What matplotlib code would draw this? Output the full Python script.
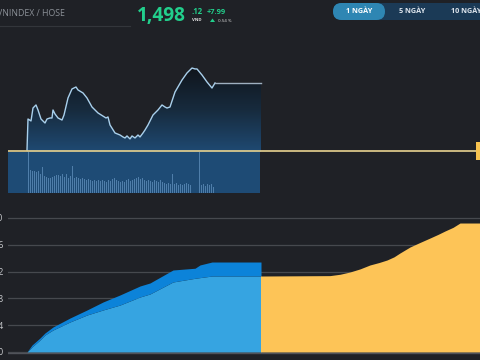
"""
VNINDEX / HOSE intraday widget — price + volume on top, cumulative volume below.
"""
import numpy as np
import matplotlib
matplotlib.use("Agg")
import matplotlib.pyplot as plt
from matplotlib.colors import LinearSegmentedColormap
from matplotlib.patches import FancyBboxPatch, Rectangle, Polygon

# ── Data (x = time slot across the session) ─────────────────────────────────
REF_PRICE = 1490.13
LAST_PRICE = 1498.12
SESSION_END = 253

price_t = [19, 20, 23, 25, 28, 30, 33, 37, 39, 42, 44, 45, 47, 50, 54, 56, 60, 64,
           68, 70, 75, 79, 84, 90, 98, 100, 102,
           107, 112, 115, 117, 119, 122, 124, 127, 130, 132, 135, 137, 140,
           145, 150, 154, 157, 159, 162, 167, 174, 179, 184, 187, 189, 194, 199,
           204, 207]
price = [1490.25, 1493.89, 1493.66, 1495.18, 1495.54, 1494.95, 1493.89, 1493.42,
         1493.89, 1494.01, 1494.01, 1494.95, 1494.48, 1494.01, 1493.77, 1494.36,
         1496.36, 1497.42, 1497.65, 1497.30, 1496.95, 1496.36, 1495.30, 1494.60,
         1494.01, 1494.13, 1493.19,
         1492.25, 1492.01, 1491.78, 1491.66, 1491.90, 1491.55, 1491.90, 1491.66,
         1492.01, 1491.78, 1492.25, 1492.60, 1493.19,
         1494.36, 1494.95, 1495.54, 1495.30, 1495.18, 1495.30, 1497.06, 1498.47,
         1499.30, 1499.88, 1499.77, 1499.77, 1499.06, 1498.24, 1497.53, 1498.12]

vol_t = [20, 22, 24, 26, 28, 30, 32, 34, 36, 38, 40, 42, 44, 46, 48, 50, 52, 54,
         56, 58, 60, 62, 64, 66, 68, 70, 72, 74, 76, 78, 80, 82, 84, 86, 88, 90,
         92, 94, 96, 98, 100, 102, 104, 106, 108, 110, 112, 114, 116, 118, 120,
         122, 124, 126, 128, 130, 132, 134, 136, 138, 140, 142, 144, 146, 148,
         150, 152, 154, 156, 158, 160, 162, 164, 166, 168, 170, 172, 174, 176,
         178, 180, 182, 191, 193, 195, 197, 199, 201, 203, 205]
vol = [41, 23, 22, 22, 21, 22, 19, 26, 17, 16, 15, 15, 16, 17, 18, 18, 17, 19,
       16, 19, 15, 17, 27, 15, 16, 15, 14, 15, 14, 13, 14, 13, 12, 13, 12, 13,
       12, 13, 12, 11, 13, 12, 14, 15, 13, 12, 11, 12, 11, 13, 14, 12, 13, 14,
       15, 16, 14, 15, 13, 12, 13, 12, 11, 13, 12, 11, 13, 11, 10, 9, 10, 9,
       19, 9, 10, 8, 9, 8, 9, 10, 9, 8, 41, 8, 9, 7, 9, 8, 9, 6]

cum_t = [19, 24, 32, 37, 45, 62, 79, 95, 112, 132, 142, 165, 187, 192, 204, 253]
cum_today = [0, 0.75, 1.79, 2.54, 3.28, 4.48, 5.52, 6.27, 7.01, 8.21, 8.66,
             10.45, 11.0, 11.1, 11.34, 11.34]
cum_total = [0, 1.04, 2.09, 2.84, 3.73, 5.07, 6.27, 7.46, 8.51, 9.85, 10.3,
             12.24, 12.5, 12.99, 13.43, 13.43]

proj_t = [252.5, 322, 332, 342, 352, 362, 371, 379, 386, 392, 402, 412, 422, 430,
          437, 445, 452, 472]
proj = [11.34, 11.4, 11.6, 11.94, 12.4, 12.99, 13.35, 13.73, 14.2, 14.78, 15.67,
        16.35, 17.01, 17.55, 18.06, 18.6, 19.25, 19.25]

cum_ticks = [0, 4, 8, 12, 16, 20]
tabs = ["1 NGÀY", "5 NGÀY", "10 NGÀY"]

# ── Style ───────────────────────────────────────────────────────────────────
BG = "#1f2126"
GREEN = "#22cf8c"
YELLOW_LINE = "#e8d390"
W, H = 480, 360

plt.rcParams["font.family"] = ["Open Sans", "DejaVu Sans"]

fig = plt.figure(figsize=(4.8, 3.6), dpi=100, facecolor=BG)


def px_axes(x0, y0, x1, y1, **kw):
    return fig.add_axes([x0 / W, 1 - y1 / H, (x1 - x0) / W, (y1 - y0) / H], **kw)


# ── Price panel ─────────────────────────────────────────────────────────────
k = 0.1175  # price per pixel
ax_p = px_axes(8, 40, 480, 152)
ax_p.set_xlim(0, 472)
ax_p.set_ylim(REF_PRICE - k, REF_PRICE + 111 * k)
ax_p.axis("off")

line_t = price_t + [SESSION_END]
line_p = price + [LAST_PRICE]
poly = ax_p.fill_between(line_t, REF_PRICE - k, line_p, facecolor="none", lw=0)
cmap = LinearSegmentedColormap.from_list("fade", ["#1f4a73", "#172b3e", "#10151c"])
grad = np.linspace(0, 1, 256).reshape(-1, 1)
im = ax_p.imshow(grad, cmap=cmap, aspect="auto", origin="lower",
                 extent=[price_t[0], SESSION_END, REF_PRICE - k, max(price)])
im.set_clip_path(poly.get_paths()[0], transform=ax_p.transData)

ax_p.plot(price_t, price, color="#a9d0ec", lw=1.0)
ax_p.plot([price_t[-1], SESSION_END], [LAST_PRICE, LAST_PRICE], color="#9fb0c0", lw=1.0)
ax_p.axhline(REF_PRICE, color=YELLOW_LINE, lw=1.2, zorder=5)

# ── Volume panel ────────────────────────────────────────────────────────────
ax_v = px_axes(8, 152, 480, 193)
ax_v.set_xlim(0, 472)
ax_v.set_ylim(0, 41)
ax_v.axis("off")
ax_v.axvspan(0, SESSION_END - 1, color="#1e4b75", lw=0)
ax_v.bar(vol_t, vol, width=1.0, color="#4f7eaa", lw=0)

# ── Cumulative volume panel ─────────────────────────────────────────────────
ax_c = px_axes(8, 205, 480, 355)
ax_c.set_facecolor("none")
ax_c.set_xlim(0, 472)
ax_c.set_ylim(-0.45, 21.94)
for s in ax_c.spines.values():
    s.set_visible(False)
ax_c.set_xticks([])
ax_c.set_yticks(cum_ticks)
ax_c.set_yticklabels([str(v) for v in cum_ticks])
ax_c.tick_params(axis="y", length=0, pad=3.5, labelsize=6.5, labelcolor="#c9cbce")
ax_c.grid(axis="y", color="#46494e", lw=0.9)
ax_c.set_axisbelow(True)

ax_c.fill_between(cum_t, 0, cum_today, color="#36a4e1", lw=0)
ax_c.fill_between(cum_t, cum_today, cum_total, color="#0c83d9", lw=0)
ax_c.fill_between(proj_t, 0, proj, color="#fdc457", lw=0)
ax_c.axhline(-0.15, color="#50535a", lw=1.0)

# ── Header overlay (pixel coordinates) ──────────────────────────────────────
ax_h = fig.add_axes([0, 0, 1, 1])
ax_h.set_xlim(0, W)
ax_h.set_ylim(H, 0)
ax_h.axis("off")

ax_h.text(-3, 16, "VNINDEX / HOSE", color="#8b9097", fontsize=6.3, va="baseline")
ax_h.plot([0, 130], [26, 26], color="#33363b", lw=0.8)

ax_h.text(137, 21, "1,498", color=GREEN, fontsize=13.8, fontweight="bold", va="baseline")
ax_h.text(191, 14.5, ".12", color=GREEN, fontsize=5.6, fontweight="bold", va="baseline")
ax_h.text(192, 21, "VND", color="#e0e0e0", fontsize=3.2, fontweight="bold", va="baseline")
ax_h.text(207, 14.5, "+7.99", color=GREEN, fontsize=5.4, fontweight="bold", va="baseline")
ax_h.add_patch(Polygon([[210, 22], [215, 22], [212.5, 18.5]], color=GREEN, lw=0))
ax_h.text(218, 21.5, "0.54 %", color="#e0e0e0", fontsize=3.2, va="baseline")

ax_h.add_patch(FancyBboxPatch((333, 3), 170, 17, boxstyle="round,pad=0,rounding_size=8.5",
                              color="#1b3a56", lw=0))
ax_h.add_patch(FancyBboxPatch((333, 3), 52, 17, boxstyle="round,pad=0,rounding_size=8.5",
                              color="#2e86b3", lw=0))
ax_h.text(359, 11.8, tabs[0], color="white", fontsize=5.2, fontweight="bold",
          ha="center", va="center")
ax_h.text(412, 11.8, tabs[1], color="#dfe6ee", fontsize=5.2, fontweight="bold",
          ha="center", va="center")
ax_h.text(451, 11.8, tabs[2], color="#dfe6ee", fontsize=5.2, fontweight="bold",
          ha="left", va="center")

# reference price tag at the right edge (mostly off-canvas)
ax_h.add_patch(Rectangle((476, 142), 10, 18, color="#f6c24f", lw=0))
ax_h.text(479, 151, "1,490.13", color="#1f2126", fontsize=6, va="center", ha="left")

fig.savefig("out.png", dpi=100, facecolor=BG)
